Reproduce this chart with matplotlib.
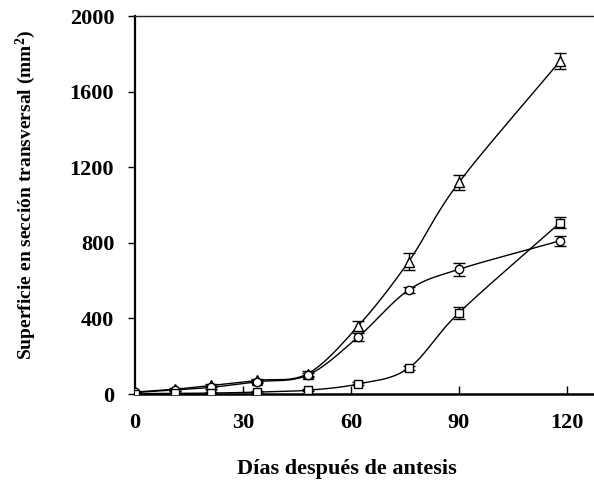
import numpy as np
import matplotlib
matplotlib.use("Agg")
import matplotlib.pyplot as plt

days = [0, 11, 21, 34, 48, 62, 76, 90, 118]
tri = [10, 25, 45, 72, 108, 360, 700, 1120, 1760]
tri_err = [5, 8, 8, 10, 12, 25, 44, 40, 42]
circ = [8, 22, 35, 65, 100, 302, 550, 660, 810]
circ_err = [5, 6, 6, 8, 10, 20, 15, 35, 26]
sq = [2, 3, 5, 10, 20, 53, 137, 430, 905]
sq_err = [2, 3, 3, 4, 5, 8, 12, 31, 29]

xticks = [0, 30, 60, 90, 120]
yticks = [0, 400, 800, 1200, 1600, 2000]

serif = ['Liberation Serif', 'DejaVu Serif']
plt.rcParams['mathtext.fontset'] = 'custom'
plt.rcParams['mathtext.rm'] = 'Liberation Serif:bold'
plt.rcParams['mathtext.bf'] = 'Liberation Serif:bold'
plt.rcParams['mathtext.default'] = 'bf'


def smooth(x, y, n=30):
    # Catmull-Rom spline through the data points (like Excel smoothed lines)
    x = np.asarray(x, float)
    y = np.asarray(y, float)
    px = np.concatenate([[2 * x[0] - x[1]], x, [2 * x[-1] - x[-2]]])
    py = np.concatenate([[2 * y[0] - y[1]], y, [2 * y[-1] - y[-2]]])
    ox, oy = [], []
    t = np.linspace(0, 1, n)
    for i in range(1, len(px) - 2):
        for arr, out in ((px, ox), (py, oy)):
            p0, p1, p2, p3 = arr[i - 1], arr[i], arr[i + 1], arr[i + 2]
            out.extend(0.5 * ((2 * p1) + (-p0 + p2) * t
                              + (2 * p0 - 5 * p1 + 4 * p2 - p3) * t ** 2
                              + (-p0 + 3 * p1 - 3 * p2 + p3) * t ** 3))
    return np.array(ox), np.array(oy)


fig = plt.figure(figsize=(5.94, 4.80), dpi=100)
ax = fig.add_axes([135 / 594, 86 / 480, 1 - 135 / 594, (394 - 16) / 480])

for y, e, m, ms in ((tri, tri_err, '^', 7), (circ, circ_err, 'o', 6), (sq, sq_err, 's', 6)):
    sx, sy = smooth(days, y)
    ax.plot(sx, sy, color='black', lw=1.0, zorder=2)
    ax.errorbar(days, y, yerr=e, fmt='none', ecolor='black', elinewidth=1.0,
                capsize=4.5, capthick=1.0, zorder=3)
    ax.plot(days, y, linestyle='none', marker=m, markersize=ms,
            markerfacecolor='white', markeredgecolor='black',
            markeredgewidth=1.0, zorder=4)

ax.set_xlim(0, 127.5)
ax.set_ylim(0, 2000)
ax.set_xticks(xticks)
ax.set_yticks(yticks)
ax.spines['right'].set_visible(False)
ax.spines['left'].set_linewidth(1.6)
ax.spines['bottom'].set_linewidth(1.8)
ax.spines['top'].set_linewidth(1.0)
ax.spines['top'].set_color('#222222')
ax.tick_params(axis='x', direction='in', length=6, width=1.0, pad=14)
ax.tick_params(axis='y', direction='out', length=5, width=1.0, pad=10)
for lab in ax.get_xticklabels() + ax.get_yticklabels():
    lab.set_fontfamily(serif)
    lab.set_fontweight('bold')
    lab.set_fontsize(16)

ax.set_xlabel('Días después de antesis', fontfamily=serif, fontweight='bold',
              fontsize=16)
ax.xaxis.set_label_coords(0.462, -0.198)
ax.xaxis.label.set_verticalalignment('center')
ax.set_ylabel('Superficie en sección transversal (mm$^{2}$)', fontfamily=serif,
              fontweight='bold', fontsize=14)
ax.yaxis.set_label_coords(-0.238, 0.526)
ax.yaxis.label.set_verticalalignment('center')
fig.savefig('out.png', dpi=100)
